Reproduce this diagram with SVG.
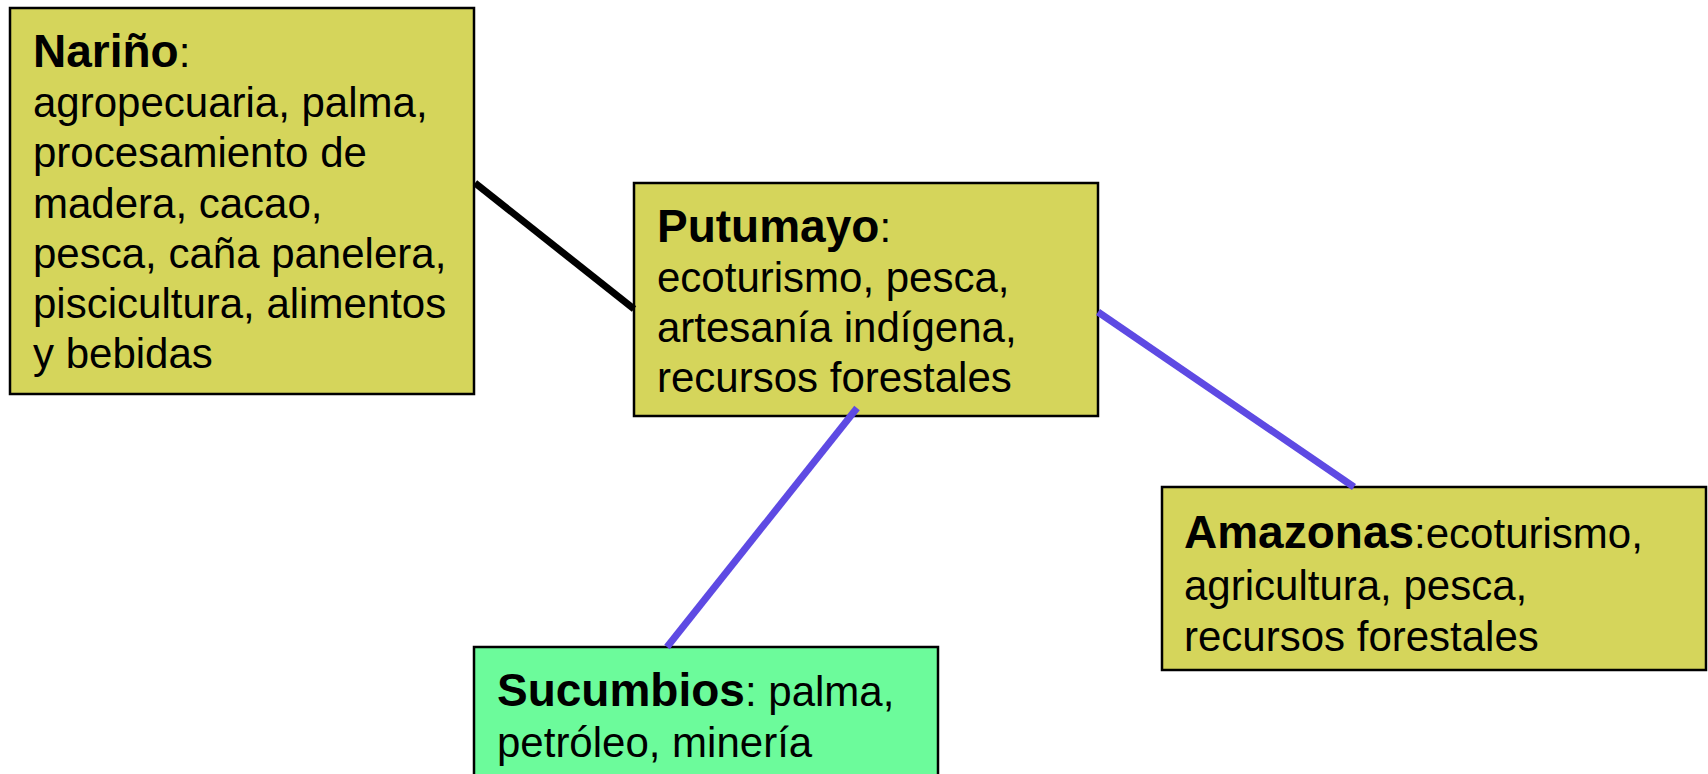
<svg xmlns="http://www.w3.org/2000/svg" width="1708" height="774" viewBox="0 0 1708 774">
<style>
.box{stroke:#000;stroke-width:2.5}
.y{fill:#D5D55B}
.g{fill:#6CFB9B}
text{font-family:"Liberation Sans",Arial,sans-serif;font-size:42px;fill:#000}
.t{font-weight:bold;font-size:46px}
.c{fill:none;stroke-width:7;stroke-linecap:butt}
</style>
<rect width="1708" height="774" fill="#fff"/>
<g id="narino">
<rect class="box y" x="10" y="8" width="464" height="386"/>
<text x="33" y="67"><tspan class="t">Nariño</tspan>:</text>
<text x="33" y="117">agropecuaria, palma,</text>
<text x="33" y="167">procesamiento de</text>
<text x="33" y="218">madera, cacao,</text>
<text x="33" y="268">pesca, caña panelera,</text>
<text x="33" y="318">piscicultura, alimentos</text>
<text x="33" y="368">y bebidas</text>
</g>
<g id="putumayo">
<rect class="box y" x="634" y="183" width="464" height="233"/>
<text x="657" y="242"><tspan class="t">Putumayo</tspan>:</text>
<text x="657" y="292">ecoturismo, pesca,</text>
<text x="657" y="342">artesanía indígena,</text>
<text x="657" y="392">recursos forestales</text>
</g>
<g id="amazonas">
<rect class="box y" x="1162" y="487" width="544" height="183"/>
<text x="1184" y="548"><tspan class="t">Amazonas</tspan>:ecoturismo,</text>
<text x="1184" y="600">agricultura, pesca,</text>
<text x="1184" y="651">recursos forestales</text>
</g>
<g id="sucumbios">
<rect class="box g" x="474" y="647" width="464" height="140"/>
<text x="497" y="706"><tspan class="t">Sucumbios</tspan>: palma,</text>
<text x="497" y="757">petróleo, minería</text>
</g>
<g id="connectors">
<line class="c" x1="475" y1="183" x2="634" y2="309" stroke="#000"/>
<line class="c" x1="857" y1="408" x2="667" y2="647" stroke="#5E4AE3"/>
<line class="c" x1="1098" y1="312" x2="1354" y2="487" stroke="#5E4AE3"/>
</g>
</svg>
